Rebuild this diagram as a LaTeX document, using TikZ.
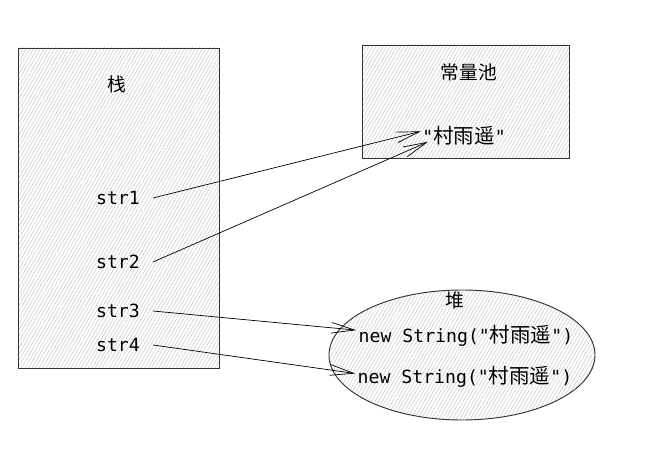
\documentclass[tikz,border=0pt]{standalone}
\usepackage{fontspec}
\setmonofont{DejaVu Sans Mono}
\newfontfamily\cjk{Noto Sans CJK SC}
\newcommand{\zh}[1]{{\cjk\fontsize{17.5}{18}\selectfont #1}}
\usetikzlibrary{shapes.geometric,arrows.meta,patterns.meta}

\begin{document}
\begin{tikzpicture}[
  x=0.03cm, y=-0.03cm,
  hatch/.style={draw=black!80,thick,pattern={Lines[angle=60,distance=2.6pt,line width=0.35pt]},pattern color=black!25},
  area/.style={hatch,rectangle,inner sep=0pt},
  heapbox/.style={hatch,ellipse,inner sep=0pt,minimum width=7.98cm,minimum height=3.9cm},
  title/.style={font=\cjk\fontsize{16}{18}\selectfont},
  var/.style={font=\ttfamily\fontsize{15.5}{17}\selectfont,inner sep=1pt},
  arrow/.style={-{Straight Barb[length=7mm,width=3.2mm]},line width=0.6pt}
]
  \useasboundingbox (0,0) rectangle (660,454);

  % memory areas
  \node[area,minimum width=6.03cm,minimum height=9.6cm] (stack) at (118.5,208) {};
  \node[area,minimum width=6.21cm,minimum height=3.39cm] (pool) at (465.5,101.5) {};
  \node[heapbox] (heap) at (462,355) {};

  \node[title] (stacklbl) at (117,84) {栈};
  \node[title] (poollbl) at (469,72) {常量池};
  \node[title] (heaplbl) at (455,300) {堆};

  % references on the stack
  \node[var] (s1) at (118,198) {str1};
  \node[var] (s2) at (118,262) {str2};
  \node[var] (s3) at (118,311) {str3};
  \node[var] (s4) at (118,345) {str4};

  % objects
  \node[var] (lit) at (464,136) {"\zh{村雨遥}"};
  \node[var] (new1) at (466,336) {new String("\zh{村雨遥}")};
  \node[var] (new2) at (465,377) {new String("\zh{村雨遥}")};

  \draw[arrow] ([xshift=10pt]s1.east) -- ([yshift=4pt]lit.west);
  \draw[arrow] ([xshift=10pt]s2.east) -- ([xshift=6pt,yshift=-5pt]lit.west);
  \draw[arrow] ([xshift=10pt]s3.east) -- ([xshift=-1pt,yshift=5pt]new1.west);
  \draw[arrow] ([xshift=10pt]s4.east) -- ([xshift=-1pt,yshift=3pt]new2.west);
\end{tikzpicture}
\end{document}
